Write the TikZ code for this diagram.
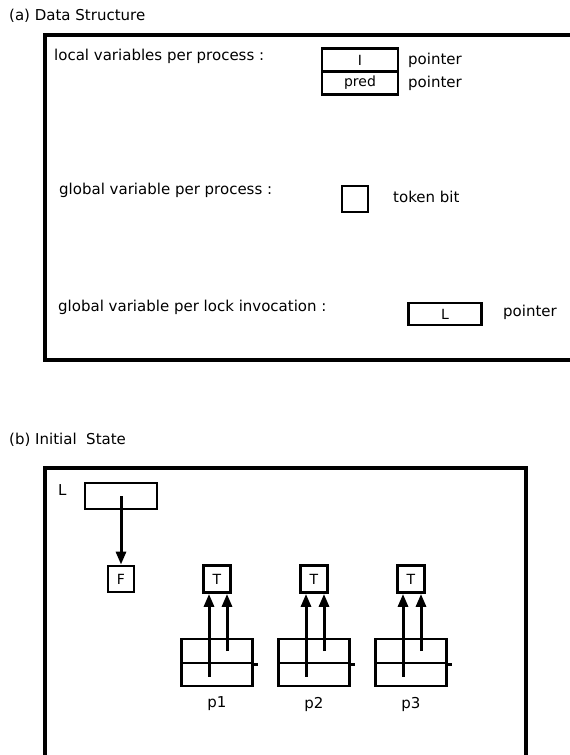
\documentclass[tikz,border=0pt]{standalone}
\usepackage{fontspec}
\setmainfont{DejaVu Sans}
\usetikzlibrary{arrows.meta}
\begin{document}
\begin{tikzpicture}[x=1pt,y=-1pt,
  frame/.style={line width=3.4pt},
  cell/.style={draw,line width=2.8pt,inner sep=0pt,font=\fontsize{14}{14}\selectfont},
  lbl/.style={inner sep=0pt,anchor=west,font=\fontsize{15}{15}\selectfont},
  plbl/.style={inner sep=0pt,font=\fontsize{15}{15}\selectfont},
  ptr/.style={line width=3pt,-{Triangle[length=13pt,width=10pt]}},
]
\useasboundingbox (0,0) rectangle (570,755);
\clip (0,0) rectangle (570,755);

% ---------- (a) ----------
\node[lbl] (ta) at (9,16) {(a) Data Structure};
\draw[frame] (580,35) -- (45,35) -- (45,360) -- (580,360);

\node[lbl] (la1) at (54,56) {local variables per process :};
\node[cell,minimum width=76pt,minimum height=23pt] (lI) at (360,60) {I};
\node[cell,minimum width=76pt,minimum height=23pt] (lpred) at (360,83) {pred};
\node[lbl] (pt1) at (408,60) {pointer};
\node[lbl] (pt2) at (408,83) {pointer};

\node[lbl] (la2) at (59,190) {global variable per process :};
\node[cell,minimum size=26pt] (tok) at (355,199) {};
\node[lbl] (tokt) at (393,197) {token bit};

\node[lbl] (la3) at (58,307) {global variable per lock invocation :};
\node[cell,minimum width=73pt,minimum height=22pt] (La) at (445,314) {L};
\node[lbl] (pt3) at (503,312) {pointer};

% ---------- (b) ----------
\node[lbl] (tb) at (9,440) {(b) Initial~ State};
\draw[frame] (45,770) -- (45,468) -- (526,468) -- (526,770);

\node[lbl] (Ll) at (58,490) {L};
\node[cell,minimum width=72pt,minimum height=26pt] (Lb) at (121,496) {};
\node[cell,minimum size=26pt] (F) at (121,579) {F};
\draw[ptr] (Lb.center) -- (F.north);

\foreach \i/\x in {1/217,2/314,3/411}{
  \node[cell,minimum size=27pt] (T\i) at (\x,579) {T};
  \node[cell,minimum width=71pt,minimum height=24pt] (u\i) at (\x,651) {};
  \node[cell,minimum width=71pt,minimum height=23pt] (d\i) at (\x,674.5) {};
  \draw[line width=2.8pt] (u\i.south east) -- ([xshift=4pt]u\i.south east);
  \draw[ptr] ([xshift=-8pt,yshift=-2pt]d\i.center) -- ([xshift=-8pt]T\i.south);
  \draw[ptr] ([xshift=10pt]u\i.center) -- ([xshift=10pt]T\i.south);
  \node[plbl] (p\i) at (\x,704) {p\i};
}
\end{tikzpicture}
\end{document}
